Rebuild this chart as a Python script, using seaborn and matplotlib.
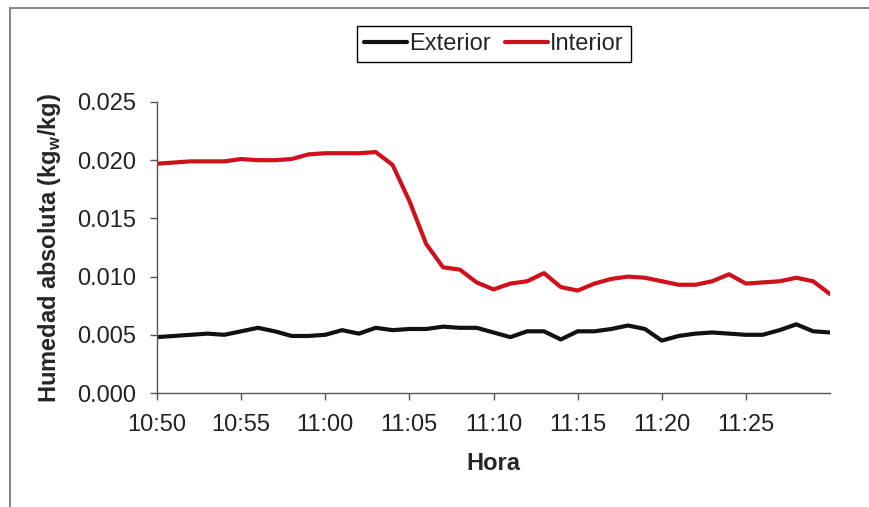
import pandas as pd
import matplotlib
matplotlib.use("Agg")
import matplotlib.pyplot as plt
import matplotlib.dates as mdates
from matplotlib.patches import Rectangle
import seaborn as sns

# datos (un punto por minuto)
horas = ["10:50", "10:51", "10:52", "10:53", "10:54", "10:55", "10:56", "10:57", "10:58", "10:59",
         "11:00", "11:01", "11:02", "11:03", "11:04", "11:05", "11:06", "11:07", "11:08", "11:09",
         "11:10", "11:11", "11:12", "11:13", "11:14", "11:15", "11:16", "11:17", "11:18", "11:19",
         "11:20", "11:21", "11:22", "11:23", "11:24", "11:25", "11:26", "11:27", "11:28", "11:29",
         "11:30"]
exterior = [0.0048, 0.0049, 0.0050, 0.0051, 0.0050, 0.0053, 0.0056, 0.0053, 0.0049, 0.0049,
            0.0050, 0.0054, 0.0051, 0.0056, 0.0054, 0.0055, 0.0055, 0.0057, 0.0056, 0.0056,
            0.0052, 0.0048, 0.0053, 0.0053, 0.0046, 0.0053, 0.0053, 0.0055, 0.0058, 0.0055,
            0.0045, 0.0049, 0.0051, 0.0052, 0.0051, 0.0050, 0.0050, 0.0054, 0.0059, 0.0053,
            0.0052]
interior = [0.0197, 0.0198, 0.0199, 0.0199, 0.0199, 0.0201, 0.0200, 0.0200, 0.0201, 0.0205,
            0.0206, 0.0206, 0.0206, 0.0207, 0.0196, 0.0165, 0.0128, 0.0108, 0.0106, 0.0095,
            0.0089, 0.0094, 0.0096, 0.0103, 0.0091, 0.0088, 0.0094, 0.0098, 0.0100, 0.0099,
            0.0096, 0.0093, 0.0093, 0.0096, 0.0102, 0.0094, 0.0095, 0.0096, 0.0099, 0.0096,
            0.0085]
ticks_x = ["10:50", "10:55", "11:00", "11:05", "11:10", "11:15", "11:20", "11:25"]
ticks_y = [0.000, 0.005, 0.010, 0.015, 0.020, 0.025]

t = pd.to_datetime(["2000-01-01 " + h for h in horas])
df = pd.concat([
    pd.DataFrame({"Hora": t, "valor": exterior, "serie": "Exterior"}),
    pd.DataFrame({"Hora": t, "valor": interior, "serie": "Interior"}),
])

sns.set_style("white")
plt.rcParams["font.family"] = ["Liberation Sans", "DejaVu Sans"]

fig = plt.figure(figsize=(8.7, 5.07), dpi=100)
ax = fig.add_axes([157 / 870, 1 - 393 / 507, (830 - 157) / 870, (393 - 102) / 507])

sns.lineplot(data=df, x="Hora", y="valor", hue="serie",
             palette={"Exterior": "#111111", "Interior": "#d0101a"},
             linewidth=3, solid_joinstyle="round", solid_capstyle="round", ax=ax)

ax.set_xlim(t[0], t[-1])
ax.set_ylim(0, 0.025)
ax.set_xticks(pd.to_datetime(["2000-01-01 " + h for h in ticks_x]))
ax.xaxis.set_major_formatter(mdates.DateFormatter("%H:%M"))
ax.set_yticks(ticks_y)
ax.set_yticklabels([f"{v:.3f}" for v in ticks_y])

for s in ["top", "right"]:
    ax.spines[s].set_visible(False)
for s in ["left", "bottom"]:
    ax.spines[s].set_color("#555555")
    ax.spines[s].set_linewidth(1)
ax.tick_params(axis="both", direction="out", length=5, width=1, color="#555555",
               labelsize=17, labelcolor="#222222", pad=10,
               left=True, bottom=True)

ax.set_xlabel("Hora", fontsize=17, fontweight="bold", labelpad=12)
ax.set_ylabel("Humedad absoluta (kg$_\\mathregular{w}$/kg)", fontsize=17, fontweight="bold", labelpad=10)

handles, labels = ax.get_legend_handles_labels()
ax.legend(handles, labels, loc="center", bbox_to_anchor=(494 / 870, 1 - 44 / 507),
          bbox_transform=fig.transFigure, ncol=2, fontsize=17, frameon=True,
          fancybox=False, edgecolor="black", handlelength=1.8, handletextpad=0.1,
          columnspacing=0.6, borderpad=0.3, framealpha=1)
ax.get_legend().get_frame().set_linewidth(1)

# borde del area del grafico
fig.patches.append(Rectangle((10 / 870, -0.05), 1.1, 1 - 8 / 507 + 0.05, fill=False,
                             edgecolor="#8a8a8a", linewidth=1.5, transform=fig.transFigure))

fig.savefig("out.png", dpi=100)
